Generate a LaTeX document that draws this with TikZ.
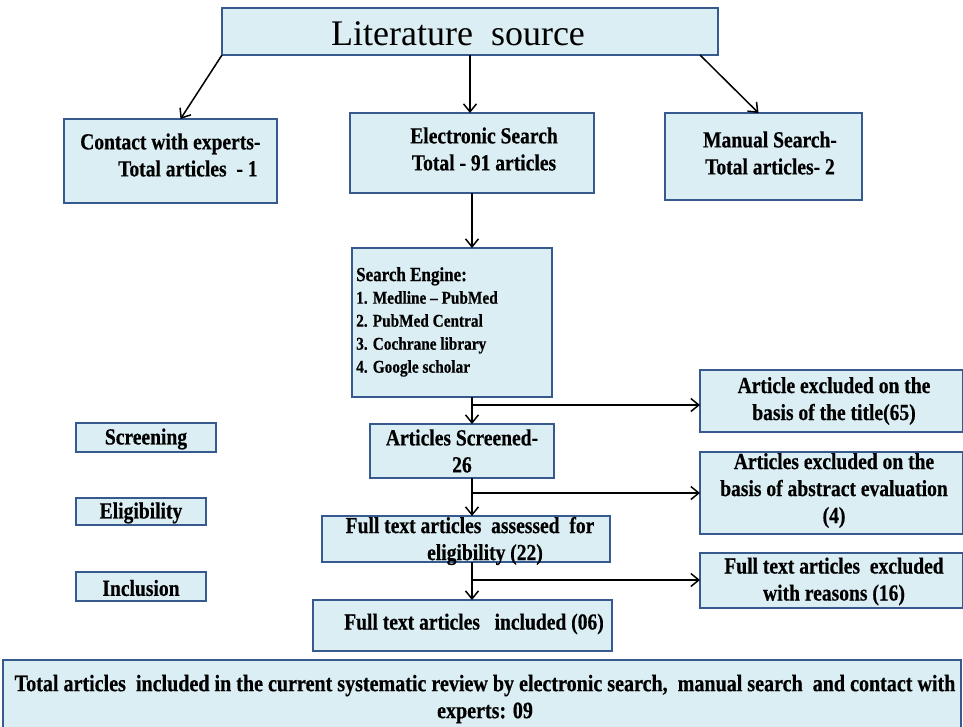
\documentclass[tikz,border=0pt]{standalone}
\usepackage{fontspec}
\setmainfont{Liberation Serif}
\newfontfamily\boxfont{Liberation Serif}[FakeStretch=0.85,FakeBold=0.5,Ligatures=TeX]
\usetikzlibrary{arrows.meta}
\definecolor{boxfill}{HTML}{DBEEF4}
\definecolor{boxline}{HTML}{365A8E}
\begin{document}
\begin{tikzpicture}[x=1pt,y=-1pt,
  bx/.style={draw=boxline, fill=boxfill, line width=2.8pt, inner sep=0pt, outer sep=0pt},
  txt/.style={font=\boxfont\bfseries\fontsize{23}{27}\selectfont, align=center, inner sep=0pt},
  lst/.style={font=\boxfont\bfseries\fontsize{18}{23}\selectfont, align=left, inner sep=0pt, anchor=north west},
  arr/.style={line width=1.5pt, -{Straight Barb[length=8pt,width=13pt,line width=1.5pt]}}]
\useasboundingbox (0,0) rectangle (963,726);
\fill[white] (0,0) rectangle (963,726);
% boxes
\node[bx, minimum width=496pt, minimum height=47pt] (top) at (470,31.5) {};
\node[bx, minimum width=213pt, minimum height=84pt] (contact) at (170.5,161) {};
\node[bx, minimum width=244pt, minimum height=80pt] (elec) at (472,153) {};
\node[bx, minimum width=197pt, minimum height=87pt] (manual) at (763.5,156.5) {};
\node[bx, minimum width=200pt, minimum height=149pt] (search) at (452,322.5) {};
\node[bx, minimum width=263pt, minimum height=62pt] (excla) at (831.5,401) {};
\node[bx, minimum width=140pt, minimum height=29pt] (screening) at (146,437.5) {};
\node[bx, minimum width=184pt, minimum height=54pt] (screened) at (462,451) {};
\node[bx, minimum width=263pt, minimum height=82pt] (exclb) at (831.5,493) {};
\node[bx, minimum width=130pt, minimum height=27pt] (elig) at (141,511.5) {};
\node[bx, minimum width=288pt, minimum height=46pt] (assessed) at (466,539) {};
\node[bx, minimum width=263pt, minimum height=55pt] (exclc) at (831.5,580.5) {};
\node[bx, minimum width=130pt, minimum height=29pt] (incl) at (141,586.5) {};
\node[bx, minimum width=299pt, minimum height=51pt] (included) at (462.5,625.5) {};
\node[bx, minimum width=958pt, minimum height=72pt] (total) at (482,696) {};
% texts
\node[inner sep=0pt, font=\fontsize{36}{40}\selectfont] (topt) at (458,34) {Literature\ \ source};
\node[txt, align=left, anchor=west] (contactt) at (80,155) {Contact with experts-\\\hspace*{38pt}Total articles\ \ - 1};
\node[txt] (elect) at (484,149) {Electronic Search\\Total - 91 articles};
\node[txt] (manualt) at (770,153) {Manual Search-\\Total articles- 2};
\node[lst, font=\boxfont\bfseries\fontsize{20}{23}\selectfont] (searcht) at (356,267) {Search Engine:};
\node[lst] (searchl) at (356,291) {1. Medline – PubMed\\2. PubMed Central\\3. Cochrane library\\4. Google scholar};
\node[txt] (exclat) at (834,401) {Article excluded on the\\basis of the title(65)};
\node[txt] (screeningt) at (146,439) {Screening};
\node[txt] (screenedt) at (462,451) {Articles Screened-\\26};
\node[txt] (exclbt) at (834,490.5) {Articles excluded on the\\basis of abstract evaluation\\(4)};
\node[txt] (eligt) at (141,513) {Eligibility};
\node[txt] (assessedt) at (470,541) {Full text articles\ \ assessed\ \ for\\\hspace*{30pt}eligibility (22)};
\node[txt] (exclct) at (834,581.5) {Full text articles\ \ excluded\\with reasons (16)};
\node[txt] (inclt) at (141,588) {Inclusion};
\node[txt] (includedt) at (474,624) {Full text articles\ \ \ included (06)};
\node[txt, font=\boxfont\bfseries\fontsize{23.6}{27}\selectfont] (totalt) at (485,699) {Total articles\ \ included in the current systematic review by electronic search,\ \ manual search\ \ and contact with\\experts: 09};
% connectors
\draw[arr] (top.south west) -- ([xshift=10pt]contact.north);
\draw[arr] (top.south) -- (top.south |- elec.north);
\draw[arr] ([xshift=-18pt]top.south east) -- ([xshift=-5pt]manual.north);
\draw[arr] (elec.south) -- (elec.south |- search.north);
\coordinate (ba) at (472,405);
\coordinate (bb) at (472,493);
\coordinate (bc) at (472,580);
\draw[arr] (elec.south |- search.south) -- (elec.south |- screened.north);
\draw[arr] (ba) -- (ba -| excla.west);
\draw[arr] (elec.south |- screened.south) -- (elec.south |- assessed.north);
\draw[arr] (bb) -- (bb -| exclb.west);
\draw[arr] (elec.south |- assessed.south) -- (elec.south |- included.north);
\draw[arr] (bc) -- (bc -| exclc.west);
\end{tikzpicture}
\end{document}
